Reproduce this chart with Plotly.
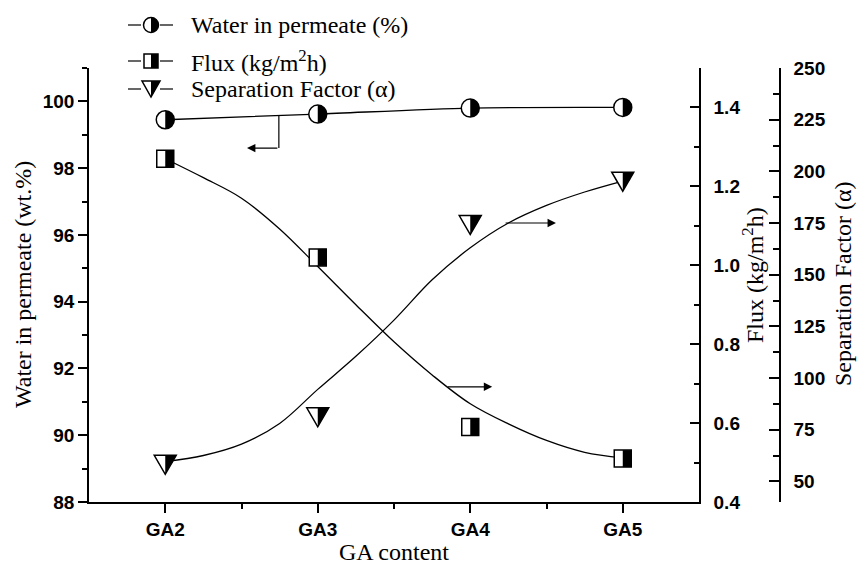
import plotly.graph_objects as go

# ---- data -------------------------------------------------------------
categories = ["GA2", "GA3", "GA4", "GA5"]
water = [99.45, 99.62, 99.80, 99.82]          # wt.% water in permeate
flux = [1.27, 1.02, 0.59, 0.51]               # kg/m2h
sep_factor = [58, 81, 174, 195]               # alpha

# fitted trend curves (position on the category axis, value)
fit_x = [0.0, 0.25, 0.5, 0.75, 1.0, 1.25, 1.5, 1.75, 2.0, 2.25, 2.5, 2.75, 3.0]
flux_fit = [1.27, 1.222, 1.17, 1.092, 0.997, 0.900, 0.806, 0.722, 0.649,
            0.598, 0.556, 0.526, 0.512]
sep_fit = [59.5, 62.5, 68, 78, 94.5, 110.5, 128, 147.5, 163, 175, 183.5, 190, 195.3]

xs = list(range(len(categories)))

# ---- figure geometry ---------------------------------------------------
W, H = 858, 571
ML, MR, MT, MB = 89, 78, 68, 69
PW, PH = W - ML - MR, H - MT - MB
X_DOMAIN_END = 610 / PW

SERIF = "Liberation Serif"
SANS = "Liberation Sans"
LW = 1.5


def px_x(px):
    return (px - ML) / PW


def px_y(py):
    return (H - MB - py) / PH


def pixel_shape(kind, xref, yref, xa, ya, fill, line_w, **geo):
    d = dict(type=kind, xref=xref, yref=yref, xsizemode="pixel", ysizemode="pixel",
             xanchor=xa, yanchor=ya, fillcolor=fill, layer="above",
             line=dict(color="black", width=line_w))
    d.update(geo)
    return d


def half_circle_path(r):
    k = 0.5523 * r
    return (f"M0,{r} C{k},{r} {r},{k} {r},0 C{r},{-k} {k},{-r} 0,{-r} Z")


def circle_glyph(xref, yref, xa, ya, r, draw_base=True):
    out = []
    if draw_base:
        out.append(pixel_shape("circle", xref, yref, xa, ya, "white", LW,
                               x0=-r, x1=r, y0=-r, y1=r))
    out.append(pixel_shape("path", xref, yref, xa, ya, "black", 0,
                           path=half_circle_path(r)))
    return out


def square_glyph(xref, yref, xa, ya, h, draw_base=True):
    out = []
    if draw_base:
        out.append(pixel_shape("rect", xref, yref, xa, ya, "white", LW,
                               x0=-h, x1=h, y0=-h, y1=h))
    out.append(pixel_shape("rect", xref, yref, xa, ya, "black", 0,
                           x0=0, x1=h, y0=-h, y1=h))
    return out


def triangle_glyph(xref, yref, xa, ya, hw, hh):
    return [
        pixel_shape("path", xref, yref, xa, ya, "white", LW,
                    path=f"M{-hw},{hh} L{hw},{hh} L0,{-hh} Z"),
        pixel_shape("path", xref, yref, xa, ya, "black", 0,
                    path=f"M0,{hh} L{hw},{hh} L0,{-hh} Z"),
    ]


fig = go.Figure()

# trend lines
line_style = dict(color="black", width=1.3)
fig.add_trace(go.Scatter(x=xs, y=water, mode="lines",
                         line=dict(shape="spline", smoothing=0.8, **line_style),
                         yaxis="y", showlegend=False, hoverinfo="skip"))
fig.add_trace(go.Scatter(x=fit_x, y=flux_fit, mode="lines",
                         line=dict(shape="spline", smoothing=1, **line_style),
                         yaxis="y2", showlegend=False, hoverinfo="skip"))
fig.add_trace(go.Scatter(x=fit_x, y=sep_fit, mode="lines",
                         line=dict(shape="spline", smoothing=1, **line_style),
                         yaxis="y3", showlegend=False, hoverinfo="skip"))

# data points
mk_line = dict(color="black", width=LW)
fig.add_trace(go.Scatter(x=xs, y=water, mode="markers", name="Water in permeate (%)",
                         marker=dict(symbol="circle", size=18, color="white", line=mk_line),
                         yaxis="y", showlegend=False))
fig.add_trace(go.Scatter(x=xs, y=flux, mode="markers", name="Flux (kg/m2h)",
                         marker=dict(symbol="square", size=17, color="white", line=mk_line),
                         yaxis="y2", showlegend=False))
fig.add_trace(go.Scatter(x=xs, y=sep_factor, mode="markers", name="Separation Factor",
                         marker=dict(symbol="triangle-down", size=12, color="white", line=mk_line),
                         yaxis="y3", showlegend=False))

shapes = []
# half-filled glyph decoration on each point
for xv, v in zip(xs, water):
    shapes += circle_glyph("x", "y", xv, v, 9, draw_base=False)
for xv, v in zip(xs, flux):
    shapes += square_glyph("x", "y2", xv, v, 8.5, draw_base=False)
for xv, v in zip(xs, sep_factor):
    shapes += triangle_glyph("x", "y3", xv, v, 11, 9.5)

# pointer from the water curve to its axis
shapes.append(dict(type="line", xref="x", yref="y", x0=0.745, x1=0.745, y0=99.58, y1=98.6,
                   line=dict(color="black", width=1.2), layer="above"))

# manual legend
legend_rows = [
    ("Water in permeate (%)", 25, "circle"),
    ("Flux (kg/m<sup>2</sup>h)", 61, "square"),
    ("Separation Factor (α)", 89, "triangle"),
]
annotations = []
mx = px_x(151)
for label, row_y, kind in legend_rows:
    yy = px_y(row_y)
    for a, b in ((-23, -10), (9, 22)):
        shapes.append(pixel_shape("line", "paper", "paper", mx, yy, "black", 1.2,
                                  x0=a, x1=b, y0=0, y1=0))
    if kind == "circle":
        shapes += circle_glyph("paper", "paper", mx, yy, 7.5)
    elif kind == "square":
        shapes += square_glyph("paper", "paper", mx, yy, 7)
    else:
        shapes += triangle_glyph("paper", "paper", mx, yy, 9, 8)
    annotations.append(dict(text=label, xref="paper", yref="paper", x=px_x(189), y=yy,
                            xanchor="left", yanchor="middle", showarrow=False,
                            font=dict(family=SERIF, size=24, color="black")))

# arrows pointing each curve to its axis
arrow = dict(showarrow=True, arrowhead=2, arrowsize=1.4, arrowwidth=1.2,
             arrowcolor="black", text="", standoff=0, startstandoff=0)
annotations.append(dict(x=0.536, y=98.6, xref="x", yref="y", ax=0.745, ay=98.6,
                        axref="x", ayref="y", **arrow))
annotations.append(dict(x=2.144, y=0.692, xref="x", yref="y2", ax=1.843, ay=0.692,
                        axref="x", ayref="y2", **arrow))
annotations.append(dict(x=2.562, y=175, xref="x", yref="y3", ax=2.222, ay=175,
                        axref="x", ayref="y3", **arrow))

# axis titles
title_font = dict(family=SERIF, size=24, color="black")
title_common = dict(xref="paper", yref="paper", showarrow=False, font=title_font,
                    xanchor="center", yanchor="middle")
annotations += [
    dict(text="Water in permeate (wt.%)", x=px_x(23), y=px_y(285), textangle=-90,
         **title_common),
    dict(text="GA content", x=px_x(394), y=px_y(552), **title_common),
    dict(text="Flux (kg/m<sup>2</sup>h)", x=px_x(753), y=px_y(275), textangle=-90,
         **title_common),
    dict(text="Separation Factor (α)", x=px_x(843), y=px_y(283), textangle=-90,
         **title_common),
]

tick_font = dict(family=SANS, size=19, color="black", weight="bold")
axis_common = dict(showline=True, linecolor="black", linewidth=LW, showgrid=False,
                   zeroline=False, tickcolor="black", tickwidth=LW, tickfont=tick_font)

fig.update_layout(
    width=W, height=H,
    margin=dict(l=ML, r=MR, t=MT, b=MB),
    paper_bgcolor="white", plot_bgcolor="white",
    showlegend=False,
    xaxis=dict(domain=[0, X_DOMAIN_END], range=[-0.5, 3.5], tickmode="array",
               tickvals=xs, ticktext=categories, ticks="outside", ticklen=9,
               minor=dict(tickvals=[0.5, 1.5, 2.5], ticks="outside", ticklen=5,
                          tickcolor="black", tickwidth=LW),
               **axis_common),
    yaxis=dict(range=[88, 101], tick0=88, dtick=2, ticks="outside", ticklen=9,
               minor=dict(tick0=88, dtick=1, ticks="outside", ticklen=5,
                          tickcolor="black", tickwidth=LW),
               **axis_common),
    yaxis2=dict(range=[0.4, 1.5], tick0=0.4, dtick=0.2, tickformat=".1f", ticks="inside",
                ticklen=9, overlaying="y", side="right", anchor="x", ticklabelstandoff=9,
                minor=dict(tick0=0.4, dtick=0.1, ticks="inside", ticklen=5,
                           tickcolor="black", tickwidth=LW),
                **axis_common),
    yaxis3=dict(range=[40, 250], tick0=50, dtick=25, ticks="inside", ticklen=10,
                overlaying="y", side="right", anchor="free", position=1.0,
                ticklabelstandoff=9,
                minor=dict(tick0=50, dtick=12.5, ticks="inside", ticklen=6,
                           tickcolor="black", tickwidth=LW),
                **axis_common),
    shapes=shapes,
    annotations=annotations,
)

fig.write_html("out.html")
